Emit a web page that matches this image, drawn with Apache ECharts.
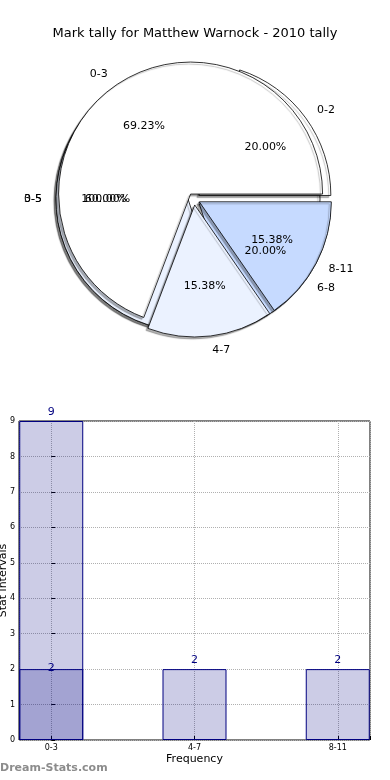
<!DOCTYPE html>
<html><head><meta charset="utf-8">
<script src="https://cdn.jsdelivr.net/npm/echarts@6/dist/echarts.min.js"></script>
<style>html,body{margin:0;padding:0;background:#fff}#c{width:390px;height:780px}</style>
</head><body><div id="c"></div>
<script>
const titleText = 'Mark tally for Matthew Warnock - 2010 tally';
const categories = ['0-3', '4-7', '8-11'];
const tallyCounts = [9, 2, 2];
const overlayCounts = [2, null, null];
const intervalLabels = ['0-2', '3-5', '6-8'];
const intervalCounts = [1, 3, 1];
const totalLabels = ['0-5'];
const totalCounts = [1];

const FONT = 'DejaVu Sans';
const CX = 194, CY = 199, R = 132, OFF = 6;
const sliceColors = ['#ffffff', '#ebf2ff', '#c6daff'];

function pieData(names, values) {
  return names.map((n, i) => ({ name: n, value: values[i], selected: true,
    itemStyle: { color: sliceColors[i % sliceColors.length] } }));
}
function sum(a) { return a.reduce((s, v) => s + v, 0); }
function pctFmt(values) {
  const t = sum(values);
  return p => (p.value / t * 100).toFixed(2) + '%';
}
function mainPie(names, values, z) {
  return {
    type: 'pie', center: [CX, CY], radius: [0, R], startAngle: 0, clockwise: false,
    selectedMode: 'multiple', selectedOffset: OFF, avoidLabelOverlap: false, silent: true, z: z,
    itemStyle: { borderColor: '#000', borderWidth: 0.8, shadowColor: 'rgba(0,0,0,0.3)', shadowOffsetX: -2, shadowOffsetY: 2, shadowBlur: 1 },
    select: { itemStyle: { borderColor: '#000', borderWidth: 0.8 } },
    label: { show: true, position: 'outside', formatter: '{b}', color: '#000', fontSize: 11, fontFamily: FONT, distanceToLabelLine: 0 },
    labelLine: { show: false, length: 14, length2: 0 },
    labelLayout: { hideOverlap: false, moveOverlap: null },
    data: pieData(names, values)
  };
}
function pctPie(names, values) {
  return {
    type: 'pie', center: [CX, CY], radius: [0.2 * R, R], startAngle: 0, clockwise: false,
    selectedMode: 'multiple', selectedOffset: OFF, avoidLabelOverlap: false, silent: true, z: 8,
    itemStyle: { color: 'rgba(0,0,0,0)', borderWidth: 0 },
    select: { itemStyle: { color: 'rgba(0,0,0,0)', borderWidth: 0 } },
    label: { show: true, position: 'inside', formatter: pctFmt(values), color: '#000', fontSize: 11, fontFamily: FONT },
    labelLine: { show: false },
    labelLayout: { hideOverlap: false, moveOverlap: null },
    data: names.map((n, i) => ({ name: n, value: values[i], selected: true }))
  };
}

const chart = echarts.init(document.getElementById('c'), null, { renderer: 'canvas' });
const barStyle = { color: 'rgba(0,0,128,0.2)', borderColor: '#000080', borderWidth: 1 };
chart.setOption({
  animation: false,
  backgroundColor: '#fff',
  textStyle: { fontFamily: FONT },
  title: { text: titleText, left: 'center', top: 22, textStyle: { fontSize: 13, fontWeight: 'normal', color: '#000', fontFamily: FONT } },
  grid: { left: 19, right: 20, top: 421, bottom: 40, containLabel: false, outerBoundsMode: 'none', show: true, borderColor: '#000', borderWidth: 1, backgroundColor: 'transparent' },
  xAxis: {
    type: 'value', min: -0.225, max: 2.225, minInterval: 1, maxInterval: 1, splitNumber: 2,
    axisLine: { show: false },
    axisTick: { show: true, inside: true, length: 4, lineStyle: { color: '#000' } },
    axisLabel: { fontSize: 8, color: '#000', margin: 4, formatter: v => (Number.isInteger(v) && categories[v]) ? categories[v] : '' },
    splitLine: { show: true, lineStyle: { type: 'dotted', color: '#b0b0b0' } },
    name: 'Frequency', nameLocation: 'middle', nameGap: 14, nameMoveOverlap: false, nameTextStyle: { fontSize: 11, color: '#000' }
  },
  yAxis: {
    type: 'value', min: 0, max: 9, interval: 1,
    axisLine: { show: false },
    axisTick: { show: true, inside: true, length: 4, lineStyle: { color: '#000' } },
    axisLabel: { fontSize: 8, color: '#000', margin: 4 },
    splitLine: { show: true, lineStyle: { type: 'dotted', color: '#b0b0b0' } },
    name: 'Stat intervals', nameLocation: 'middle', nameGap: 10, nameMoveOverlap: false, nameRotate: 90, nameTextStyle: { fontSize: 11, color: '#000' }
  },
  graphic: [{ type: 'text', left: 0, top: 763, style: { text: 'Dream-Stats.com', fill: '#8c8c8c', font: 'bold 11px "DejaVu Sans"' } }],
  series: [
    mainPie(totalLabels, totalCounts, 2),
    mainPie(intervalLabels, intervalCounts, 3),
    mainPie(categories, tallyCounts, 4),
    pctPie(totalLabels, totalCounts),
    pctPie(intervalLabels, intervalCounts),
    pctPie(categories, tallyCounts),
    { type: 'bar', data: categories.map((c, i) => [i, tallyCounts[i]]), barWidth: 64, barGap: '-100%',
      itemStyle: barStyle, label: { show: true, position: 'top', color: '#000080', fontSize: 11, distance: 3 } },
    { type: 'bar', data: categories.map((c, i) => [i, overlayCounts[i]]).filter(d => d[1] != null), barWidth: 64, barGap: '-100%',
      itemStyle: barStyle, label: { show: true, position: 'top', color: '#000080', fontSize: 11, distance: -5 } }
  ]
});
</script></body></html>
